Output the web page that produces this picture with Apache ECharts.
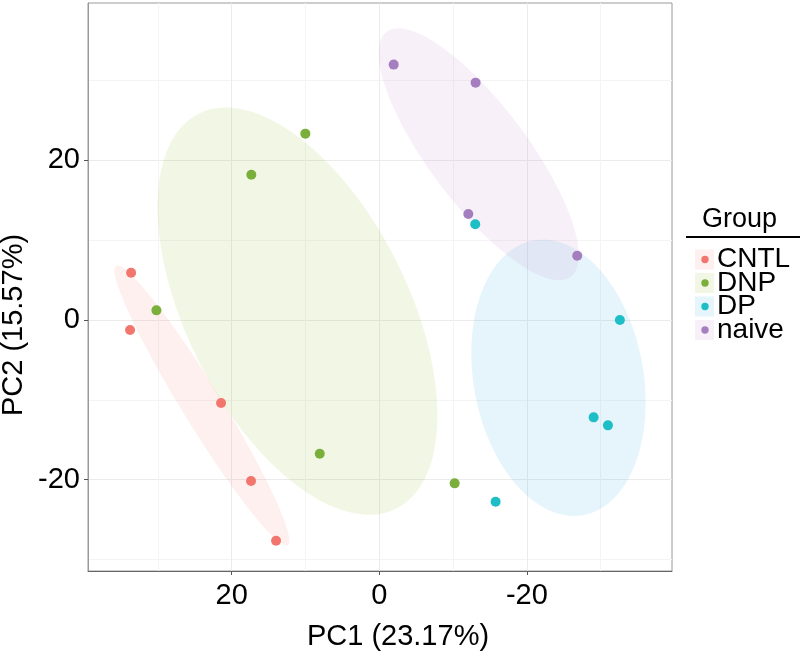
<!DOCTYPE html>
<html><head><meta charset="utf-8">
<script src="https://cdn.jsdelivr.net/npm/echarts@6/dist/echarts.min.js"></script>
<style>html,body{margin:0;padding:0;background:#fff}#c{width:800px;height:659px}</style>
</head><body><div id="c"></div>
<script>
// ---- data ----
const groups = ['CNTL', 'DNP', 'DP', 'naive'];
const cntlPC1 = [33.63, 33.77, 21.44, 17.38, 13.99];
const cntlPC2 = [5.93, -1.25, -10.4, -20.18, -27.65];
const dnpPC1 = [10.02, 17.34, 30.2, 8.07, -10.21];
const dnpPC2 = [23.35, 18.21, 1.21, -16.75, -20.47];
const dpPC1 = [-13.0, -32.6, -29.04, -30.98, -15.76];
const dpPC2 = [11.99, 0.0, -12.2, -13.2, -22.77];
const naivePC1 = [-1.95, -13.05, -12.06, -26.82];
const naivePC2 = [32.0, 29.74, 13.28, 8.06];
const xTicks = [20, 0, -20];
const yTicks = [20, 0, -20];
const ellipseLevel = 0.5;
const xTitle = 'PC1 (23.17%)';
const yTitle = 'PC2 (15.57%)';
const legendTitle = 'Group';

// ---- styles ----
const colors = ['#F3766E', '#7BAF3B', '#1DBEC6', '#A57EC0'];
const fills = ['rgba(248,118,109,0.11)', 'rgba(124,174,0,0.1)', 'rgba(40,170,220,0.12)', 'rgba(200,130,200,0.12)'];
const FONT = 'Liberation Sans, Arial, sans-serif';

const groupX = [cntlPC1, dnpPC1, dpPC1, naivePC1];
const groupY = [cntlPC2, dnpPC2, dpPC2, naivePC2];

// normal-theory ellipse like ggplot2 stat_ellipse(type = "norm")
function ellipsePoints(xs, ys, level, segs) {
  const n = xs.length;
  let mx = 0, my = 0;
  for (let i = 0; i < n; i++) { mx += xs[i]; my += ys[i]; }
  mx /= n; my /= n;
  let a = 0, b = 0, c = 0;
  for (let i = 0; i < n; i++) {
    const dx = xs[i] - mx, dy = ys[i] - my;
    a += dx * dx; b += dx * dy; c += dy * dy;
  }
  a /= (n - 1); b /= (n - 1); c /= (n - 1);
  const dfd = n - 1;
  const q = dfd / 2 * (Math.pow(1 - level, -2 / dfd) - 1); // qf(level, 2, dfd)
  const r = Math.sqrt(2 * q);
  const r11 = Math.sqrt(a), r12 = b / r11, r22 = Math.sqrt(Math.max(c - b * b / a, 0));
  const pts = [];
  for (let i = 0; i <= segs; i++) {
    const t = 2 * Math.PI * i / segs;
    const co = Math.cos(t), si = Math.sin(t);
    pts.push([mx + r * co * r11, my + r * (co * r12 + si * r22)]);
  }
  return pts;
}

const series = [];
groups.forEach((g, gi) => {
  const pts = ellipsePoints(groupX[gi], groupY[gi], ellipseLevel, 120);
  series.push({
    type: 'custom',
    name: g + '_ellipse',
    silent: true,
    z: 1,
    clip: true,
    data: pts,
    encode: { x: 0, y: 1 },
    renderItem: function (params, api) {
      if (params.dataIndex !== 0) return null;
      const poly = pts.map(p => api.coord(p));
      return {
        type: 'polygon',
        shape: { points: poly },
        style: { fill: fills[gi], stroke: null }
      };
    }
  });
});
groups.forEach((g, gi) => {
  series.push({
    type: 'scatter',
    name: g,
    z: 5,
    symbol: 'circle',
    symbolSize: 10,
    data: groupX[gi].map((x, i) => [x, groupY[gi][i]]),
    itemStyle: { color: colors[gi], opacity: 1 }
  });
});

// legend (drawn as graphic, real text)
const legendGraphic = [
  { type: 'text', left: 702, top: 206, style: { text: legendTitle, font: '27px ' + FONT, fill: '#000' } },
  { type: 'rect', shape: { x: 686, y: 236, width: 114, height: 2 }, style: { fill: '#000' } }
];
groups.forEach((g, gi) => {
  const cy = 259.5 + gi * 23.5;
  legendGraphic.push({ type: 'rect', shape: { x: 695, y: cy - 10, width: 19, height: 20 }, style: { fill: fills[gi] } });
  legendGraphic.push({ type: 'circle', shape: { cx: 705, cy: cy, r: 3.7 }, style: { fill: colors[gi] } });
  legendGraphic.push({ type: 'text', x: 717, y: cy, style: { text: g, font: '28px ' + FONT, fill: '#000', verticalAlign: 'middle', align: 'left' } });
});

const chart = echarts.init(document.getElementById('c'), null, { renderer: 'canvas' });
chart.setOption({
  animation: false,
  backgroundColor: '#fff',
  grid: { left: 88, right: 128, top: 3, bottom: 88, show: true, borderColor: '#9a9a9a', borderWidth: 1, backgroundColor: 'transparent', outerBoundsMode: 'none', containLabel: false },
  xAxis: {
    type: 'value', inverse: true, min: -39.66, max: 39.47, splitNumber: 4,
    axisLine: { show: true, onZero: false, lineStyle: { color: '#666', width: 1 } },
    axisTick: { show: true, length: 4, lineStyle: { color: '#555' }, customValues: xTicks },
    axisLabel: { show: true, fontSize: 29, color: '#000', fontFamily: FONT, margin: 10, customValues: xTicks },
    splitLine: { show: true, lineStyle: { color: '#EBEBEB', width: 1 } },
    minorTick: { show: false, splitNumber: 2 },
    minorSplitLine: { show: true, lineStyle: { color: '#F4F4F4', width: 1 } }
  },
  yAxis: {
    type: 'value', min: -31.45, max: 39.72, splitNumber: 4,
    axisLine: { show: true, onZero: false, lineStyle: { color: '#999', width: 1 } },
    axisTick: { show: true, length: 4, lineStyle: { color: '#555' }, customValues: yTicks },
    axisLabel: { show: true, fontSize: 29, color: '#000', fontFamily: FONT, margin: 8, customValues: yTicks },
    splitLine: { show: true, lineStyle: { color: '#EBEBEB', width: 1 } },
    minorTick: { show: false, splitNumber: 2 },
    minorSplitLine: { show: true, lineStyle: { color: '#F4F4F4', width: 1 } }
  },
  graphic: [
    { type: 'text', x: 398, y: 637, style: { text: xTitle, font: '29px ' + FONT, fill: '#000', align: 'center', verticalAlign: 'middle' } },
    { type: 'text', x: 14, y: 325, rotation: Math.PI / 2, style: { text: yTitle, font: '29px ' + FONT, fill: '#000', align: 'center', verticalAlign: 'middle' } }
  ].concat(legendGraphic),
  series: series
});
</script>
</body></html>
